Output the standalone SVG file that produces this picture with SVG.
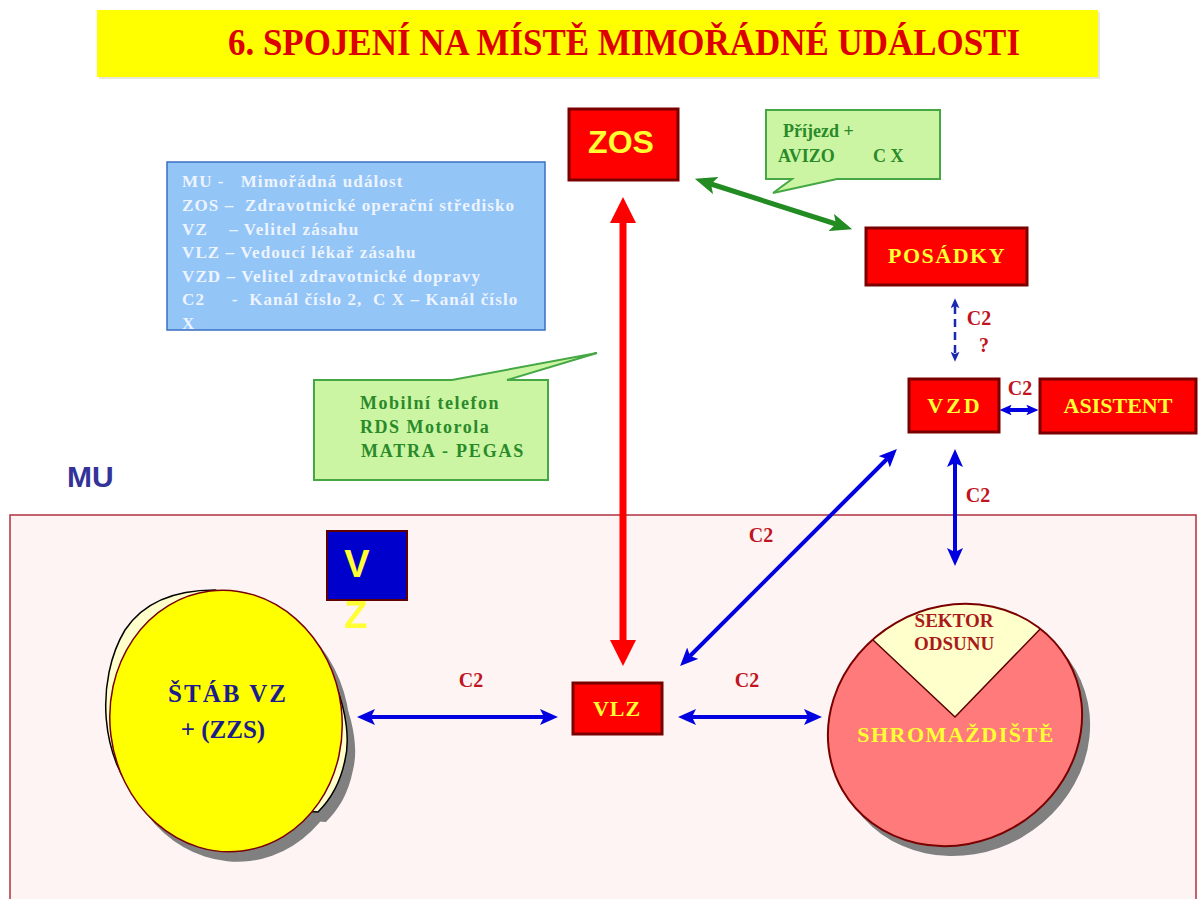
<svg xmlns="http://www.w3.org/2000/svg" width="1201" height="899" viewBox="0 0 1201 899">
<style>
.box{fill:#ff0000;stroke:#7a0000;stroke-width:3}
.bt{font-family:"Liberation Serif","Times New Roman",serif;font-weight:bold;fill:#ffff33;text-anchor:middle}
.lbl{font-family:"Liberation Serif","Times New Roman",serif;font-weight:bold;fill:#c0141e;font-size:20px;text-anchor:middle}
.call{fill:#ccf5a3;stroke:#45a845;stroke-width:2}
.gt{font-family:"Liberation Serif","Times New Roman",serif;font-weight:bold;fill:#2a8a2a}
.leg{font-family:"Liberation Serif","Times New Roman",serif;font-weight:bold;fill:#eef4ff;font-size:17px;letter-spacing:1.1px;white-space:pre}
.blue{stroke:#0000e0;stroke-width:4;fill:none;marker-start:url(#bh);marker-end:url(#bh)}
</style>
<defs>
<marker id="rh" markerUnits="userSpaceOnUse" markerWidth="26" markerHeight="26" viewBox="0 0 26 26" refX="0" refY="13" orient="auto-start-reverse"><path d="M0,0 L26,13 L0,26 z" fill="#ff0000"/></marker>
<marker id="bh" markerUnits="userSpaceOnUse" markerWidth="18" markerHeight="16" viewBox="0 0 18 16" refX="4" refY="8" orient="auto-start-reverse"><path d="M0,0 L18,8 L0,16 L4,8 z" fill="#0000e0"/></marker>
<marker id="bs" markerUnits="userSpaceOnUse" markerWidth="12" markerHeight="10.7" viewBox="0 0 18 16" refX="4" refY="8" orient="auto-start-reverse"><path d="M0,0 L18,8 L0,16 L4,8 z" fill="#0000e0"/></marker>
<marker id="bd" markerUnits="userSpaceOnUse" markerWidth="10" markerHeight="9" viewBox="0 0 18 16" refX="4" refY="8" orient="auto-start-reverse"><path d="M0,0 L18,8 L0,16 L4,8 z" fill="#1a2ab0"/></marker>
<marker id="gh" markerUnits="userSpaceOnUse" markerWidth="22" markerHeight="18" viewBox="0 0 22 18" refX="5" refY="9" orient="auto-start-reverse"><path d="M0,0 L22,9 L0,18 L5,9 z" fill="#228b22"/></marker>
<clipPath id="pieclip"><ellipse cx="955" cy="725" rx="130" ry="118" transform="rotate(-30 955 725)"/></clipPath>
</defs>
<rect width="1201" height="899" fill="#ffffff"/>

<g id="title">
<rect x="99" y="12" width="1001" height="67" fill="#d8d8c0" opacity="0.6"/>
<rect x="97" y="10" width="1001" height="67" fill="#ffff00"/>
<text x="624" y="55" font-family="Liberation Serif, Times New Roman, serif" font-weight="bold" font-size="37" fill="#dd0000" text-anchor="middle" textLength="792" lengthAdjust="spacingAndGlyphs">6. SPOJENÍ NA MÍSTĚ MIMOŘÁDNÉ UDÁLOSTI</text>
</g>

<g id="mu-area">
<rect x="10" y="515" width="1186" height="400" fill="#fdf4f3" stroke="#b03040" stroke-width="1.5"/>
<text x="67" y="487" font-family="Liberation Sans, Arial, sans-serif" font-weight="bold" font-size="30" fill="#333399">MU</text>
</g>

<g id="legend">
<rect x="167" y="162" width="378" height="168" fill="#93c5f7" stroke="#3a6fc4" stroke-width="1.5"/>
<text class="leg" x="182" y="187" xml:space="preserve">MU -   Mimořádná událost</text>
<text class="leg" x="182" y="211" xml:space="preserve">ZOS –  Zdravotnické operační středisko</text>
<text class="leg" x="182" y="235" xml:space="preserve">VZ    – Velitel zásahu</text>
<text class="leg" x="182" y="258" xml:space="preserve">VLZ – Vedoucí lékař zásahu</text>
<text class="leg" x="182" y="282" xml:space="preserve">VZD – Velitel zdravotnické dopravy</text>
<text class="leg" x="182" y="305" xml:space="preserve">C2     -  Kanál číslo 2,  C X – Kanál číslo</text>
<text class="leg" x="182" y="329">X</text>
</g>

<g id="callout-top">
<path class="call" d="M766,110 H940 V179 H837 L773,193 L792,179 H766 Z"/>
<text class="gt" x="783" y="137" font-size="18">Příjezd +</text>
<text class="gt" x="778" y="162" font-size="18">AVIZO</text>
<text class="gt" x="873" y="162" font-size="18">C X</text>
</g>

<g id="callout-mid">
<path class="call" d="M314,380 H452 L597,353 L507,380 H548 V480 H314 Z"/>
<text class="gt" x="360" y="409" font-size="18" letter-spacing="1.5">Mobilní telefon</text>
<text class="gt" x="360" y="433" font-size="18" letter-spacing="1.5">RDS Motorola</text>
<text class="gt" x="361" y="457" font-size="18" letter-spacing="1.8">MATRA - PEGAS</text>
</g>

<g id="connectors">
<line x1="623" y1="223" x2="623" y2="640" stroke="#ff0000" stroke-width="7" marker-start="url(#rh)" marker-end="url(#rh)"/>
<line x1="711" y1="184" x2="836" y2="224" stroke="#228b22" stroke-width="5" marker-start="url(#gh)" marker-end="url(#gh)"/>
<line x1="955" y1="306" x2="955" y2="354" stroke="#1a2ab0" stroke-width="2.5" stroke-dasharray="8,5" marker-start="url(#bd)" marker-end="url(#bd)"/>
<line x1="1009" y1="410" x2="1029" y2="410" stroke="#0000e0" stroke-width="4" marker-start="url(#bs)" marker-end="url(#bs)"/>
<line class="blue" x1="955" y1="463" x2="955" y2="552"/>
<line class="blue" x1="690" y1="656" x2="887" y2="459"/>
<line class="blue" x1="371" y1="717" x2="544" y2="717"/>
<line class="blue" x1="692" y1="717" x2="808" y2="717"/>
<text class="lbl" x="979" y="325">C2</text>
<text class="lbl" x="984" y="352">?</text>
<text class="lbl" x="1020" y="395">C2</text>
<text class="lbl" x="978" y="502">C2</text>
<text class="lbl" x="761" y="542">C2</text>
<text class="lbl" x="471" y="687">C2</text>
<text class="lbl" x="747" y="687">C2</text>
</g>

<g id="zos">
<rect class="box" x="569" y="109" width="109" height="71"/>
<text x="621" y="153" font-family="Liberation Sans, Arial, sans-serif" font-weight="bold" font-size="32" fill="#ffff33" text-anchor="middle">ZOS</text>
</g>

<g id="posadky">
<rect class="box" x="866" y="228" width="161" height="57"/>
<text class="bt" x="947" y="263" font-size="22" letter-spacing="1.5">POSÁDKY</text>
</g>

<g id="vzd">
<rect class="box" x="909" y="379" width="90" height="53"/>
<text class="bt" x="955" y="413" font-size="22" letter-spacing="3">VZD</text>
</g>

<g id="asistent">
<rect class="box" x="1040" y="379" width="156" height="54"/>
<text class="bt" x="1118" y="413" font-size="22">ASISTENT</text>
</g>

<g id="vlz">
<rect class="box" x="573" y="683" width="89" height="51"/>
<text class="bt" x="617" y="716" font-size="22" letter-spacing="1">VLZ</text>
</g>

<g id="vz">
<rect x="327" y="531" width="80" height="69" fill="#0000cc" stroke="#600000" stroke-width="2"/>
<text x="357" y="577" font-family="Liberation Sans, Arial, sans-serif" font-weight="bold" font-size="38" fill="#ffff33" text-anchor="middle">V</text>
<text x="356" y="628" font-family="Liberation Sans, Arial, sans-serif" font-weight="bold" font-size="38" fill="#ffff33" text-anchor="middle">Z</text>
</g>

<g id="stab">
<path d="M148,810 C108,770 103,690 133,640 C153,610 188,600 223,600 L298,630 C338,670 363,730 353,770 C348,795 338,810 326,822 Z" fill="#808080"/>
<ellipse cx="234" cy="731" rx="116" ry="131" transform="rotate(-7 234 731)" fill="#808080"/>
<path d="M140,800 C100,760 95,680 125,630 C145,600 180,590 215,590 L290,620 C330,650 355,720 345,760 C340,785 330,800 318,812 Z" fill="#ffffcc" stroke="#000000" stroke-width="1.5"/>
<ellipse cx="226" cy="721" rx="116" ry="131" transform="rotate(-7 226 721)" fill="#ffff00" stroke="#7a0000" stroke-width="1.5"/>
<text x="228" y="702" font-family="Liberation Serif, Times New Roman, serif" font-weight="bold" font-size="25" fill="#1c1c8c" text-anchor="middle" letter-spacing="2">ŠTÁB VZ</text>
<text x="223" y="738" font-family="Liberation Serif, Times New Roman, serif" font-weight="bold" font-size="25" fill="#1c1c8c" text-anchor="middle">+ (ZZS)</text>
</g>

<g id="shromazdiste">
<ellipse cx="963" cy="735" rx="130" ry="118" transform="rotate(-30 963 735)" fill="#808080"/>
<ellipse cx="955" cy="725" rx="130" ry="118" transform="rotate(-30 955 725)" fill="#ff7b7b"/>
<path d="M955,717 L840,609 L840,560 L1075,560 L1075,593 Z" fill="#ffffcc" stroke="#5a0000" stroke-width="1.5" clip-path="url(#pieclip)"/>
<ellipse cx="955" cy="725" rx="130" ry="118" transform="rotate(-30 955 725)" fill="none" stroke="#7a0000" stroke-width="2"/>
<text x="954" y="627" font-family="Liberation Serif, Times New Roman, serif" font-weight="bold" font-size="19" fill="#aa1a1a" text-anchor="middle">SEKTOR</text>
<text x="954" y="650" font-family="Liberation Serif, Times New Roman, serif" font-weight="bold" font-size="19" fill="#aa1a1a" text-anchor="middle">ODSUNU</text>
<text x="956" y="742" font-family="Liberation Serif, Times New Roman, serif" font-weight="bold" font-size="22" fill="#ffff33" text-anchor="middle" letter-spacing="1.5">SHROMAŽDIŠTĚ</text>
</g>
</svg>
